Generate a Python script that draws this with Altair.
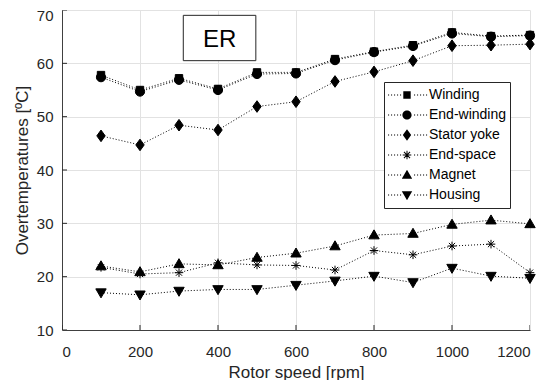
import altair as alt
import pandas as pd

# ---------------- data ----------------
speeds = [100, 200, 300, 400, 500, 600, 700, 800, 900, 1000, 1100, 1200]
winding = [57.8, 55.0, 57.2, 55.2, 58.3, 58.3, 60.8, 62.2, 63.4, 65.8, 65.1, 65.3]
end_winding = [57.4, 54.7, 56.9, 55.0, 58.0, 58.1, 60.6, 62.1, 63.25, 65.6, 65.0, 65.2]
stator_yoke = [46.4, 44.7, 48.4, 47.5, 51.9, 52.8, 56.6, 58.4, 60.5, 63.3, 63.4, 63.6]
end_space = [21.75, 20.5, 20.75, 22.6, 22.2, 22.1, 21.25, 24.9, 24.1, 25.75, 26.1, 20.75]
magnet = [22.0, 20.9, 22.4, 22.2, 23.6, 24.4, 25.75, 27.8, 28.1, 29.8, 30.6, 29.9]
housing = [17.0, 16.6, 17.3, 17.6, 17.6, 18.4, 19.2, 20.1, 18.9, 21.6, 20.1, 19.7]

series_names = ["Winding", "End-winding", "Stator yoke", "End-space", "Magnet", "Housing"]
series_values = [winding, end_winding, stator_yoke, end_space, magnet, housing]

x_ticks = [0, 200, 400, 600, 800, 1000, 1200]
y_ticks = [10, 20, 30, 40, 50, 60, 70]

x_title = "Rotor speed [rpm]"
y_title = "Overtemperatures [ºC]"
box_text = "ER"
box_x = [311, 497]
box_y = [69.0, 60.5]
box_text_y = 64.3

# ---------------- tables ----------------
rows = []
for name, vals in zip(series_names, series_values):
    for s, v in zip(speeds, vals):
        rows.append({"series": name, "speed": s, "temp": v})
df = pd.DataFrame(rows)

# ---------------- marker shapes (pixel units with size=4) ----------------
def p(v):
    return f"{v:g}"

def square(cx):
    h = 3.7
    return f"M{p(cx-h)},{p(-h)}H{p(cx+h)}V{p(h)}H{p(cx-h)}Z"

def circle(cx):
    r = 4.6
    return f"M{p(cx-r)},0A{p(r)},{p(r)} 0 1,1 {p(cx+r)},0A{p(r)},{p(r)} 0 1,1 {p(cx-r)},0Z"

def diamond(cx):
    w, h = 4.2, 5.8
    return f"M{p(cx)},{p(-h)}L{p(cx+w)},0L{p(cx)},{p(h)}L{p(cx-w)},0Z"

def tri_up(cx):
    return f"M{p(cx)},-5.2L{p(cx+5.2)},3.8L{p(cx-5.2)},3.8Z"

def tri_down(cx):
    return f"M{p(cx)},5.2L{p(cx-5.2)},-3.8L{p(cx+5.2)},-3.8Z"

def star_stroke(cx):
    a, d = 4.3, 3.1
    return (f"M{p(cx-a)},0H{p(cx+a)}M{p(cx)},{p(-a)}V{p(a)}"
            f"M{p(cx-d)},{p(-d)}L{p(cx+d)},{p(d)}M{p(cx-d)},{p(d)}L{p(cx+d)},{p(-d)}")

def star_fill(cx):
    return (f"M{p(cx-4.3)},-0.5H{p(cx+4.3)}V0.5H{p(cx-4.3)}Z"
            f"M{p(cx-0.5)},-4.3H{p(cx+0.5)}V4.3H{p(cx-0.5)}Z"
            f"M{p(cx-3.4)},-2.7L{p(cx-2.7)},-3.4L{p(cx+3.4)},2.7L{p(cx+2.7)},3.4Z"
            f"M{p(cx-3.4)},2.7L{p(cx+2.7)},-3.4L{p(cx+3.4)},-2.7L{p(cx-2.7)},3.4Z")

marker_fns = [square, circle, diamond, star_stroke, tri_up, tri_down]
legend_marker_fns = [square, circle, diamond, star_fill, tri_up, tri_down]

marker_paths = [f(0) for f in marker_fns]

LSH = -5  # legend symbol shift
dot_xs = [x + LSH for x in [-1, 2, 5, 8, 11, 25, 28, 31, 34, 37]]
dots = "".join(f"M{p(x)},-0.55h1.1v1.1h-1.1Z" for x in dot_xs)
legend_paths = [dots + f(18 + LSH) for f in legend_marker_fns]

FONT = "Liberation Sans"
TXT = "#262626"

xs = alt.Scale(domain=[0, 1200], nice=False)
ys = alt.Scale(domain=[10, 70], nice=False)

x_enc = alt.X("speed:Q", scale=xs,
              axis=alt.Axis(values=x_ticks, title=x_title, labelPadding=14, format="d",
                            titleY=47, titleBaseline="alphabetic"))
y_enc = alt.Y("temp:Q", scale=ys,
              axis=alt.Axis(values=y_ticks, title=y_title, labelPadding=9, format="d",
                            labelOffset={"condition": {"test": "datum.value == 70", "value": 5},
                                         "value": 0},
                            titleX=-35, titleY=160, titleBaseline="alphabetic"))

base = alt.Chart(df)

lines = base.mark_line(color="black", strokeWidth=1, strokeDash=[1, 2]).encode(
    x=x_enc, y=y_enc, detail="series:N"
)

points = base.mark_point(filled=True, fill="black", stroke="black", strokeWidth=1,
                         opacity=1, size=4).encode(
    x=x_enc, y=y_enc,
    shape=alt.Shape("series:N", scale=alt.Scale(domain=series_names, range=marker_paths),
                    legend=None),
)

legend_layer = base.transform_filter("false").mark_point(
    filled=True, color="black", opacity=1, size=4).encode(
    x=x_enc, y=y_enc,
    shape=alt.Shape("series:N",
                    scale=alt.Scale(domain=series_names, range=legend_paths),
                    legend=alt.Legend(title=None, orient="none", legendX=322, legendY=72,
                                      padding=3, strokeColor=TXT, fillColor="white",
                                      labelFont=FONT, labelFontSize=14, labelColor="black",
                                      labelExpr="datum.label + ' '",
                                      symbolSize=4, symbolFillColor="black",
                                      symbolStrokeWidth=0, symbolOpacity=1,
                                      clipHeight=20, rowPadding=0, labelOffset=28)),
)

xt = alt.Chart(pd.DataFrame({"t": x_ticks})).mark_tick(
    orient="vertical", size=10, thickness=1, color=TXT, clip=True, opacity=1
).encode(x=alt.X("t:Q", scale=xs), y=alt.datum(10))

yt = alt.Chart(pd.DataFrame({"t": y_ticks})).mark_tick(
    orient="horizontal", size=10, thickness=1, color=TXT, clip=True, opacity=1
).encode(y=alt.Y("t:Q", scale=ys), x=alt.datum(0))

box_df = pd.DataFrame({"x": [box_x[0]], "x2": [box_x[1]], "y": [box_y[0]], "y2": [box_y[1]],
                       "tx": [(box_x[0] + box_x[1]) / 2], "ty": [box_text_y], "t": [box_text]})
box = alt.Chart(box_df).mark_rect(fill="white", stroke=TXT, strokeWidth=1).encode(
    x=alt.X("x:Q", scale=xs), x2="x2:Q", y=alt.Y("y:Q", scale=ys), y2="y2:Q"
)
box_label = alt.Chart(box_df).mark_text(font=FONT, fontSize=24, color="black",
                                        baseline="middle", align="center").encode(
    x=alt.X("tx:Q", scale=xs), y=alt.Y("ty:Q", scale=ys), text="t:N"
)

chart = alt.layer(lines, xt, yt, points, box, box_label, legend_layer).resolve_scale(
    shape="independent"
).properties(
    width=468, height=320,
    autosize=alt.AutoSizeParams(type="none"),
    padding={"left": 54, "top": 2, "right": 12, "bottom": 50},
).configure_view(stroke=None).configure_axis(
    grid=True, gridColor="#e2e2e2", gridWidth=1,
    ticks=False, tickSize=0,
    domainColor="#404040", domainWidth=1,
    labelFont=FONT, labelFontSize=15, labelColor=TXT,
    titleFont=FONT, titleFontSize=17, titleColor=TXT, titleFontWeight="normal",
)

chart.save("out.html", embed_options={"renderer": "svg", "actions": False})
